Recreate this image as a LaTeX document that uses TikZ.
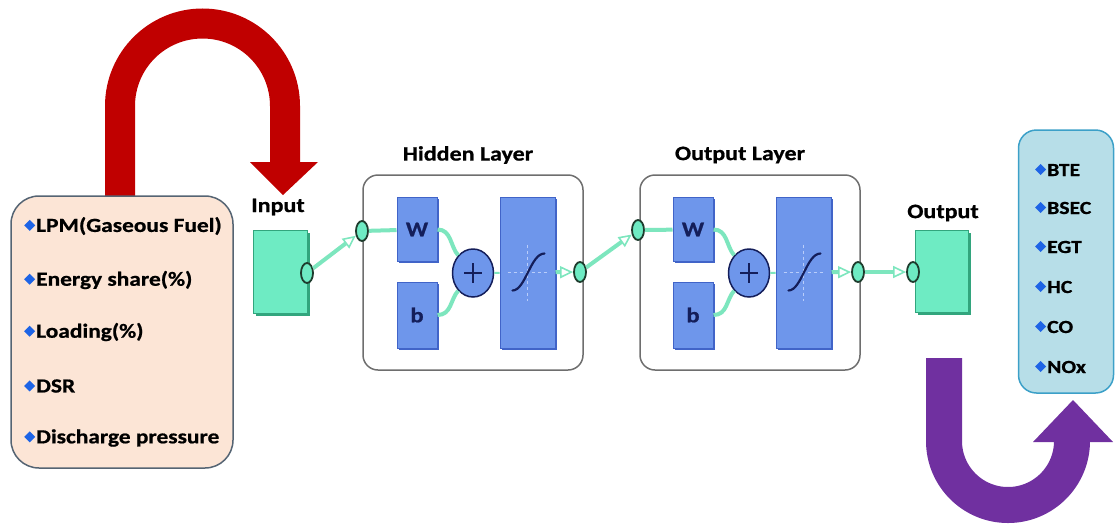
\documentclass[tikz,border=0pt]{standalone}
\usepackage{fontspec}
\setmainfont{Carlito}[FakeStretch=1.17, BoldFeatures={FakeBold=0.8}]
\usetikzlibrary{arrows.meta,shapes.geometric,calc,shadows}
\definecolor{peach}{RGB}{252,229,214}
\definecolor{peachborder}{RGB}{85,100,115}
\definecolor{lblue}{RGB}{183,222,232}
\definecolor{lblueborder}{RGB}{60,160,200}
\definecolor{ured}{RGB}{192,0,0}
\definecolor{upurple}{RGB}{112,48,160}
\definecolor{aqua}{RGB}{110,235,195}
\definecolor{aquadark}{RGB}{50,165,125}
\definecolor{portdark}{RGB}{30,60,45}
\definecolor{connc}{RGB}{125,230,190}
\definecolor{bluef}{RGB}{110,150,235}
\definecolor{blueb}{RGB}{65,100,200}
\definecolor{navy}{RGB}{20,30,90}
\definecolor{crossc}{RGB}{185,205,250}
\definecolor{diamc}{RGB}{30,100,230}
\definecolor{layerc}{RGB}{110,110,110}
\newcommand{\dm}{\tikz[x=1pt,y=1pt,baseline=0pt]\fill[diamc] (0,6.5)--(5.5,12)--(11,6.5)--(5.5,1)--cycle;\hspace{1pt}}
\begin{document}
\begin{tikzpicture}[x=1pt,y=-1pt,
  lbl/.style={font=\bfseries\fontsize{20.5}{22}\selectfont, inner sep=0pt},
  item/.style={anchor=west, font=\bfseries\fontsize{20}{21}\selectfont, inner sep=0pt},
  ritem/.style={anchor=west, font=\bfseries\fontsize{18.5}{20}\selectfont, inner sep=0pt},
  aquabox/.style={draw=aquadark, line width=1pt, fill=aqua, inner sep=0pt,
    drop shadow={shadow xshift=2.5pt, shadow yshift=-2.5pt, fill=aquadark, opacity=1}},
  port/.style={ellipse, draw=portdark, line width=1.8pt, fill=aqua, minimum width=12pt, minimum height=20pt, inner sep=0pt},
  conn/.style={draw=connc, line width=4pt},
  blk/.style={draw=blueb, fill=bluef, line width=1pt, inner sep=0pt, text=navy,
    font=\bfseries\fontsize{21}{21}\selectfont,
    drop shadow={shadow xshift=1.5pt, shadow yshift=-1.5pt, fill=blueb, opacity=1}},
  plusn/.style={ellipse, draw=navy, fill=bluef, line width=1.5pt, minimum width=41pt, minimum height=48pt, inner sep=0pt},
  layer/.style={draw=layerc, line width=1.5pt, rounded corners=15pt, fill=white},
  tip/.style={-{Triangle[open, length=13pt, width=12pt, line width=1.6pt]}},
  bigarrow/.style={line width=#1, line cap=butt}
]
\useasboundingbox (0,0) rectangle (1117,523);

% big U arrows
\draw[bigarrow=30pt, ured] (120,205) -- (120,106) arc[start angle=180, end angle=360, radius=82.5] -- (285,163);
\fill[ured] (250,162) -- (318,162) -- (283,195) -- cycle;
\draw[bigarrow=36pt, upurple] (944,358) -- (944,441) arc[start angle=180, end angle=0, radius=64] -- (1072,440);
\fill[upurple] (1033,442) -- (1113,442) -- (1073,400) -- cycle;

% left input list
\node[draw=peachborder, fill=peach, line width=1.5pt, rounded corners=28pt, minimum width=222pt, minimum height=272pt, inner sep=0pt] (inlist) at (122,332) {};
\node[item] (i1) at (24,226) {\dm LPM(Gaseous Fuel)};
\node[item] (i2) at (24,280) {\dm Energy share(\%)};
\node[item] (i3) at (24,332) {\dm Loading(\%)};
\node[item] (i4) at (24,386) {\dm DSR};
\node[item] (i5) at (24,438) {\dm Discharge pressure};

% right output list
\node[draw=lblueborder, fill=lblue, line width=1.5pt, rounded corners=18pt, minimum width=95pt, minimum height=263pt, inner sep=0pt] (outlist) at (1066,261.5) {};
\node[ritem] (o1) at (1035,170) {\dm BTE};
\node[ritem] (o2) at (1035,208) {\dm BSEC};
\node[ritem] (o3) at (1035,247) {\dm EGT};
\node[ritem] (o4) at (1035,287) {\dm HC};
\node[ritem] (o5) at (1035,327) {\dm CO};
\node[ritem] (o6) at (1035,367) {\dm NOx};

% labels
\node[lbl] (linput) at (278,207) {Input};
\node[lbl] (lhidden) at (468,155) {Hidden Layer};
\node[lbl] (loutl) at (740,155) {Output Layer};
\node[lbl] (loutput) at (943,213) {Output};

% layer boxes
\node[layer, minimum width=220pt, minimum height=195pt] (hl) at (473,272.5) {};
\node[layer, minimum width=220pt, minimum height=195pt] (ol) at (750,272.5) {};

% input/output boxes
\node[aquabox, minimum width=54pt, minimum height=83pt] (inbox) at (280,271.5) {};
\node[aquabox, minimum width=53pt, minimum height=82pt] (outbox) at (941.5,271) {};

% hidden layer blocks
\node[blk, minimum width=40pt, minimum height=64pt] (w1) at (417,229.5) {W};
\node[blk, minimum width=40pt, minimum height=66pt] (b1) at (417,315) {b};
\node[plusn] (p1) at (473,273) {};
\node[blk, minimum width=55pt, minimum height=151pt] (s1) at (527.5,272.5) {};
% output layer blocks
\node[blk, minimum width=40pt, minimum height=64pt] (w2) at (693,229.5) {W};
\node[blk, minimum width=40pt, minimum height=66pt] (b2) at (693,315) {b};
\node[plusn] (p2) at (749,273) {};
\node[blk, minimum width=55pt, minimum height=151pt] (s2) at (803.5,272.5) {};

% plus signs and transfer functions
\foreach \p in {p1,p2}{
  \draw[navy, line width=2.6pt] ($(\p)+(-9,0)$) -- ($(\p)+(9,0)$);
  \draw[navy, line width=2.6pt] ($(\p)+(0,-10)$) -- ($(\p)+(0,10)$);
}
\foreach \s in {s1,s2}{
  \draw[crossc, dashed, line width=1pt] ($(\s)+(0,-28)$) -- ($(\s)+(0,28)$);
  \draw[crossc, dashed, line width=1pt] ($(\s)+(-20,0)$) -- ($(\s)+(20,0)$);
  \draw[navy, line width=2.2pt, line cap=round] ($(\s)+(-15,18)$) .. controls ($(\s)+(-2,18)$) and ($(\s)+(3,-19)$) .. ($(\s)+(17,-19)$);
}

% ports
\node[port] (pin) at (307,273) {};
\node[port] (hin) at (362,231) {};
\node[port] (hout) at (580,272) {};
\node[port] (oin) at (638,230) {};
\node[port] (oout) at (858,272) {};
\node[port] (outin) at (913,272) {};

% connectors
\draw[conn, tip] (pin) -- (hin);
\draw[conn] (hin) -- (w1);
\draw[conn] (w1.east) .. controls +(14,0) and +(-8,-9) .. (p1.130);
\draw[conn] (b1.east) .. controls +(14,0) and +(-8,9) .. (p1.230);
\draw[connc, line width=2pt] (p1) -- (s1);
\draw[conn, tip] (s1) -- (hout);
\draw[conn, tip] (hout) -- (oin);
\draw[conn] (oin) -- (w2);
\draw[conn] (w2.east) .. controls +(14,0) and +(-8,-9) .. (p2.130);
\draw[conn] (b2.east) .. controls +(14,0) and +(-8,9) .. (p2.230);
\draw[connc, line width=2pt] (p2) -- (s2);
\draw[conn, tip] (s2) -- (oout);
\draw[conn, tip] (oout) -- (outin);
\end{tikzpicture}
\end{document}
